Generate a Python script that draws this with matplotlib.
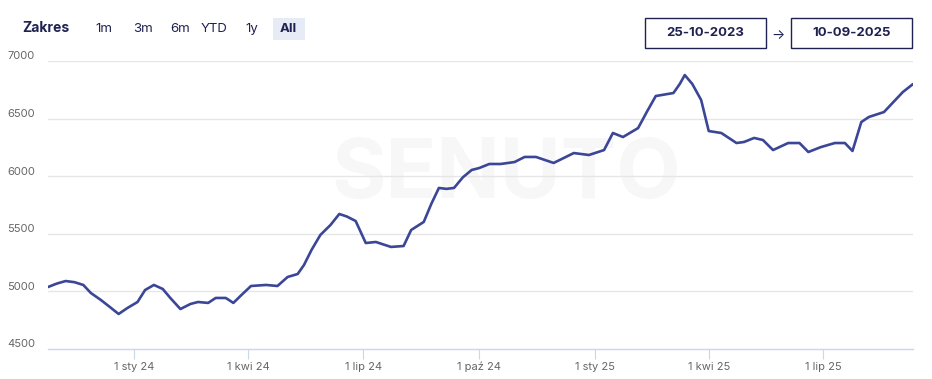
import matplotlib
matplotlib.use("Agg")
import matplotlib.pyplot as plt
from matplotlib.patches import Rectangle
import pandas as pd

plt.rcParams['font.family'] = ['Inter', 'DejaVu Sans']

# values
dates = [
    "2023-10-25", "2023-11-01", "2023-11-08", "2023-11-15", "2023-11-22", "2023-11-28",
    "2023-12-06", "2023-12-13", "2023-12-20", "2023-12-27", "2024-01-04", "2024-01-10",
    "2024-01-17", "2024-01-24", "2024-01-30", "2024-02-07", "2024-02-15", "2024-02-21",
    "2024-02-29", "2024-03-06", "2024-03-14", "2024-03-20", "2024-03-27", "2024-04-03",
    "2024-04-15", "2024-04-24", "2024-05-02", "2024-05-10", "2024-05-15", "2024-05-21",
    "2024-05-28", "2024-06-05", "2024-06-12", "2024-06-18", "2024-06-25", "2024-07-03",
    "2024-07-11", "2024-07-23", "2024-08-02", "2024-08-08", "2024-08-18", "2024-08-24",
    "2024-08-30", "2024-09-05", "2024-09-11", "2024-09-18", "2024-09-25", "2024-10-01",
    "2024-10-09", "2024-10-18", "2024-10-29", "2024-11-06", "2024-11-15", "2024-11-29",
    "2024-12-15", "2024-12-27", "2025-01-08", "2025-01-15", "2025-01-23", "2025-02-04",
    "2025-02-11", "2025-02-18", "2025-03-04", "2025-03-09", "2025-03-13", "2025-03-19",
    "2025-03-26", "2025-04-01", "2025-04-11", "2025-04-23", "2025-04-29", "2025-05-07",
    "2025-05-14", "2025-05-22", "2025-06-03", "2025-06-12", "2025-06-19", "2025-06-29",
    "2025-07-10", "2025-07-18", "2025-07-24", "2025-07-31", "2025-08-06", "2025-08-18",
    "2025-08-26", "2025-09-02", "2025-09-10",
]
values = [
    5038, 5068, 5090, 5080, 5056, 4986,
    4925, 4865, 4804, 4856, 4908, 5012,
    5056, 5021, 4943, 4847, 4891, 4908,
    4900, 4943, 4943, 4900, 4975, 5047,
    5056, 5047, 5125, 5151, 5229, 5360,
    5490, 5576, 5672, 5650, 5611, 5420,
    5429, 5386, 5394, 5533, 5603, 5760,
    5898, 5890, 5898, 5990, 6054, 6071,
    6106, 6106, 6123, 6167, 6167, 6115,
    6201, 6184, 6227, 6375, 6340, 6418,
    6560, 6696, 6722, 6800, 6878, 6800,
    6661, 6392, 6375, 6288, 6297, 6332,
    6314, 6227, 6288, 6288, 6210, 6253,
    6288, 6288, 6219, 6470, 6514, 6557,
    6650, 6731, 6800,
]
y_ticks = [4500, 5000, 5500, 6000, 6500, 7000]
x_ticks = ["2024-01-01", "2024-04-01", "2024-07-01", "2024-10-01", "2025-01-01", "2025-04-01", "2025-07-01"]
x_labels = ["1 sty 24", "1 kwi 24", "1 lip 24", "1 paź 24", "1 sty 25", "1 kwi 25", "1 lip 25"]
ranges = ["1m", "3m", "6m", "YTD", "1y", "All"]
date_from = "25-10-2023"
date_to = "10-09-2025"

W, H = 932, 379
fig = plt.figure(figsize=(W / 100, H / 100), dpi=100)
fig.patch.set_facecolor("white")

ax = fig.add_axes([48 / W, 1 - 349 / H, 865 / W, 288 / H])
x = pd.to_datetime(dates)
ax.set_xlim(pd.Timestamp("2023-10-25"), pd.Timestamp("2025-09-10"))
ax.set_ylim(4500, 7000)

# faint watermark
ax.text(0.53, 0.6, "SENUTO", transform=ax.transAxes, ha="center", va="center",
        fontsize=60, fontweight="bold", color="#f7f7f7", zorder=0)

for v in y_ticks[1:]:
    ax.axhline(v, color="#e6e6e6", lw=1, zorder=1)
ax.plot(x, values, color="#3b4696", lw=1.9, solid_joinstyle="round",
        solid_capstyle="round", zorder=3)

for s in ["top", "right", "left"]:
    ax.spines[s].set_visible(False)
ax.spines["bottom"].set_color("#ccd6eb")
ax.spines["bottom"].set_linewidth(1)

ax.set_yticks([])
for v in y_ticks:
    ax.text(-41 / 865, v + 40, str(v), transform=ax.get_yaxis_transform(),
            ha="left", va="center", fontsize=8, color="#666666")

ax.set_xticks(pd.to_datetime(x_ticks))
ax.set_xticklabels(x_labels, fontsize=8, color="#666666")
ax.tick_params(axis="x", length=7, color="#ccd6eb", pad=2)

# header: range selector
fig.text(22 / W, 1 - 28 / H, "Zakres", fontsize=10, fontweight="bold",
         color="#1f2151", va="center", ha="left")
btn_x = [104, 143, 180, 214, 252, 288]
fig.patches.append(Rectangle((273 / W, 1 - 40 / H), 32 / W, 22 / H,
                             transform=fig.transFigure, facecolor="#e6ebf5",
                             edgecolor="none"))
for label, bx in zip(ranges, btn_x):
    fig.text(bx / W, 1 - 29 / H, label, fontsize=9.5, color="#1f2151",
             fontweight="bold" if label == "All" else "normal",
             ha="center", va="center")

# date boxes
for x0, txt in [(645, date_from), (791, date_to)]:
    fig.patches.append(Rectangle((x0 / W, 1 - 48 / H), 121 / W, 30 / H,
                                 transform=fig.transFigure, facecolor="white",
                                 edgecolor="#1f2151", lw=1))
    fig.text((x0 + 60.5) / W, 1 - 33 / H, txt, fontsize=9.5, fontweight="bold",
             color="#1f2151", ha="center", va="center")
fig.text(778 / W, 1 - 35 / H, "→", fontsize=10, color="#1f2151",
         ha="center", va="center")

fig.savefig("out.png", dpi=100)
